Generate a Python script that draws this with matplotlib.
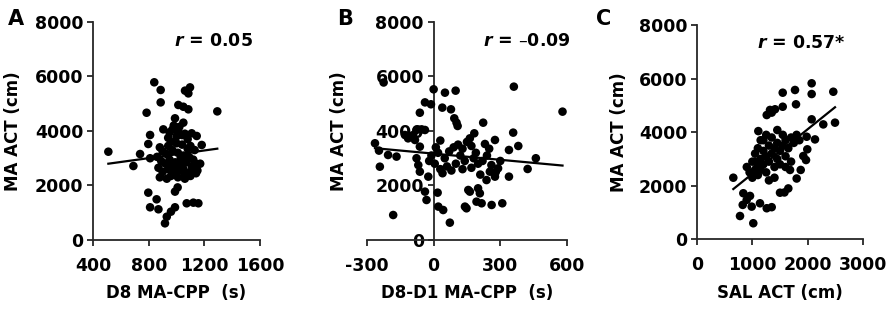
import numpy as np
import matplotlib
matplotlib.use("Agg")
import matplotlib.pyplot as plt

plt.rcParams['font.family'] = ['DejaVu Sans']
plt.rcParams['font.weight'] = 'bold'
plt.rcParams['mathtext.fontset'] = 'dejavusans'
plt.rcParams['axes.unicode_minus'] = False

# panel A: D8 MA-CPP (s) vs MA ACT (cm)
a_x = [510, 690, 738, 785, 797, 810, 810, 797, 840, 857,
       810, 870, 886, 886, 905, 917, 930, 960, 989, 989,
       1008, 1013, 1049, 1049, 989, 1061, 1097, 1085, 1085, 1073,
       1121, 1157, 1109, 1145, 1181, 1293,
       950, 980, 1020, 1060, 1080, 940, 960, 1000, 1040, 1100,
       1130, 880, 900, 930, 970, 1010, 1050, 1090, 1120, 860,
       890, 920, 950, 990, 1030, 1070, 1110, 1140, 870, 900,
       940, 980, 1020, 1060, 1100, 1150, 880, 930, 960, 1010,
       1060, 1100, 1140, 1000, 1040, 970, 1000, 940, 1080, 1050,
       1170, 1010, 960, 1030]
a_y = [3240, 2715, 3155, 4670, 3523, 3853, 3000, 1737, 5787, 1493,
       1200, 1127, 5505, 5050, 4060, 612, 855, 1040, 1200, 1775,
       1930, 4955, 4890, 4305, 4465, 5480, 5600, 5380, 4795, 1347,
       1370, 1347, 3915, 3817, 3487, 4720,
       3950, 4200, 4150, 3900, 3700, 3750, 3600, 3550, 3500, 3450,
       3300, 3400, 3250, 3150, 3300, 3200, 3100, 3050, 2950, 3050,
       2900, 2800, 2950, 2850, 2750, 2850, 2700, 2800, 2650, 2500,
       2600, 2450, 2550, 2400, 2500, 2550, 2300, 2250, 2350, 2300,
       2250, 2350, 2450, 3800, 3850, 4050, 2650, 3450, 3350, 2600,
       2800, 4000, 2700, 3000]

# panel B: D8-D1 MA-CPP (s) vs MA ACT (cm)
b_x = [-225, 0, 51, 99, -39, -12, 39, 78, -62, 93,
       103, 108, -129, -115, -77, -54, -39, -84, -62, -92,
       -264, -246, -205, -167, -242, -182, -77, -69, -62, -24,
       -39, -32, 18, 21, 43, 73, 156, 141,
       361, 580, 223, 358, 276, 231, 381, 339, 183, 163,
       460, 423, 339, 290, 253, 276, 238, 200, 208, 163,
       193, 216, 261, 309, 148,
       10, 30, 20, -10, 50, 70, 90, 110, 130, 150,
       170, 120, 140, 100, 60, 30, 80, 180, 200, 220,
       240, 260, 210, 170, -20, 5, 40, 130, 190, 250,
       280, 300]
b_y = [5780, 5530, 5406, 5480, 5050, 4980, 4857, 4795, 4670, 4465,
       4305, 4184, 3853, 3730, 4037, 4060, 4037, 3670, 3425, 3853,
       3550, 3280, 3120, 3060, 2690, 917, 3000, 2750, 2507, 2325,
       1775, 1468, 1737, 1225, 1100, 636, 1835, 1225,
       5627, 4710, 4305, 3940, 3670, 3523, 3450, 3303, 3915, 3730,
       3000, 2606, 2325, 2630, 2507, 2325, 2200, 1897, 1713, 1775,
       1407, 1347, 1285, 1347, 1163,
       3400, 3650, 3200, 3100, 3000, 3250, 3400, 3500, 3350, 3600,
       3450, 3100, 2900, 2800, 2700, 2600, 2550, 3000, 2800, 2900,
       3100, 2750, 2400, 2650, 2900, 2800, 2450, 2600, 3200, 3350,
       2500, 2900]

# panel C: SAL ACT (cm) vs MA ACT (cm)
c_x = [2072, 2463, 2072, 1771, 1549, 1789, 1549, 1319, 1410, 1260,
       1350, 2072, 2494, 2282, 1451, 1108, 2132, 1982, 1993, 1921,
       1970, 1874, 1801, 1681, 656, 837, 958, 1500, 1650, 898,
       826, 988, 1138, 1260, 1350, 777, 1017, 1580,
       900, 950, 1000, 1000, 1050, 1050, 1100, 1100, 1100, 1150,
       1150, 1200, 1200, 1200, 1250, 1250, 1300, 1300, 1300, 1350,
       1350, 1400, 1400, 1450, 1450, 1500, 1500, 1550, 1550, 1600,
       1600, 1650, 1700, 1700, 1750, 1800, 1850, 1250, 1150, 1050,
       1600, 1400]
c_y = [5825, 5510, 5424, 5575, 5474, 5040, 4950, 4830, 4855, 4640,
       4730, 4480, 4355, 4290, 4080, 4040, 3730, 3830, 3360, 3110,
       2960, 2590, 2270, 2590, 2300, 1720, 1620, 1740, 1900, 1470,
       1285, 1220, 1345, 1160, 1200, 870, 600, 1750,
       2700, 2500, 2900, 2300, 2600, 3200, 2800, 3400, 2400, 3000,
       2600, 3300, 2800, 3700, 3100, 2500, 3500, 2900, 2200, 3200,
       3800, 2700, 3400, 3000, 3600, 3300, 2800, 3500, 3900, 3100,
       3700, 3400, 3800, 2900, 3600, 3900, 3700, 3900, 3700, 2900,
       2700, 2300]

r_labels = ['0.05', '\u20130.09', '0.57*']
x_labels = ['D8 MA-CPP  (s)', 'D8-D1 MA-CPP  (s)', 'SAL ACT (cm)']
x_ticks = [[400, 800, 1200, 1600], [-300, 0, 300, 600], [0, 1000, 2000, 3000]]
y_ticks = [0, 2000, 4000, 6000, 8000]
panel_names = ['A', 'B', 'C']

fig = plt.figure(figsize=(8.92, 3.11), dpi=100)

boxes = [[0.1043, 0.2283, 0.1872, 0.7010],
         [0.4114, 0.2283, 0.2242, 0.7010],
         [0.7814, 0.2305, 0.1861, 0.6890]]
ylab_pos = [-0.425, -0.095, -0.416]
r_pos = [0.72, 0.80, 0.63]
letter_x = [0.018, 0.387, 0.677]

data = [(a_x, a_y), (b_x, b_y), (c_x, c_y)]

for i in range(3):
    ax = fig.add_axes(boxes[i])
    x = np.array(data[i][0], dtype=float)
    y = np.array(data[i][1], dtype=float)
    ax.scatter(x, y, s=38, color='black', edgecolors='none', zorder=3)

    # Excel-like linear trendline over the data range
    k, b = np.polyfit(x, y, 1)
    xs = np.array([x.min(), x.max()])
    ax.plot(xs, k * xs + b, color='black', lw=1.6, zorder=4)

    ax.set_xlim(x_ticks[i][0], x_ticks[i][-1])
    ax.set_ylim(0, 8000)
    ax.set_xticks(x_ticks[i])
    ax.set_yticks(y_ticks)
    ax.spines['top'].set_visible(False)
    ax.spines['right'].set_visible(False)
    for s in ['left', 'bottom']:
        ax.spines[s].set_color('#262626')
        ax.spines[s].set_linewidth(1.3)
    if i == 1:
        ax.spines['left'].set_position(('data', 0))
    ax.tick_params(direction='out', length=4, width=1.3, color='#262626',
                   labelsize=12.5, pad=3)
    ax.tick_params(axis='x', pad=8)
    for lab in ax.get_xticklabels() + ax.get_yticklabels():
        lab.set_fontweight('bold')
    ax.set_xlabel(x_labels[i], fontsize=12, fontweight='bold', labelpad=7)
    ax.set_ylabel('MA ACT (cm)', fontsize=12, fontweight='bold')
    ax.yaxis.set_label_coords(ylab_pos[i], 0.5)
    ax.text(r_pos[i], 0.915, r'$\mathbfit{r}$ = ' + r_labels[i], transform=ax.transAxes,
            ha='center', va='center', fontsize=12.5, fontweight='bold')
    fig.text(letter_x[i], 0.939, panel_names[i], fontsize=15, fontweight='bold',
             ha='center', va='center')

fig.savefig('out.png', dpi=100)
